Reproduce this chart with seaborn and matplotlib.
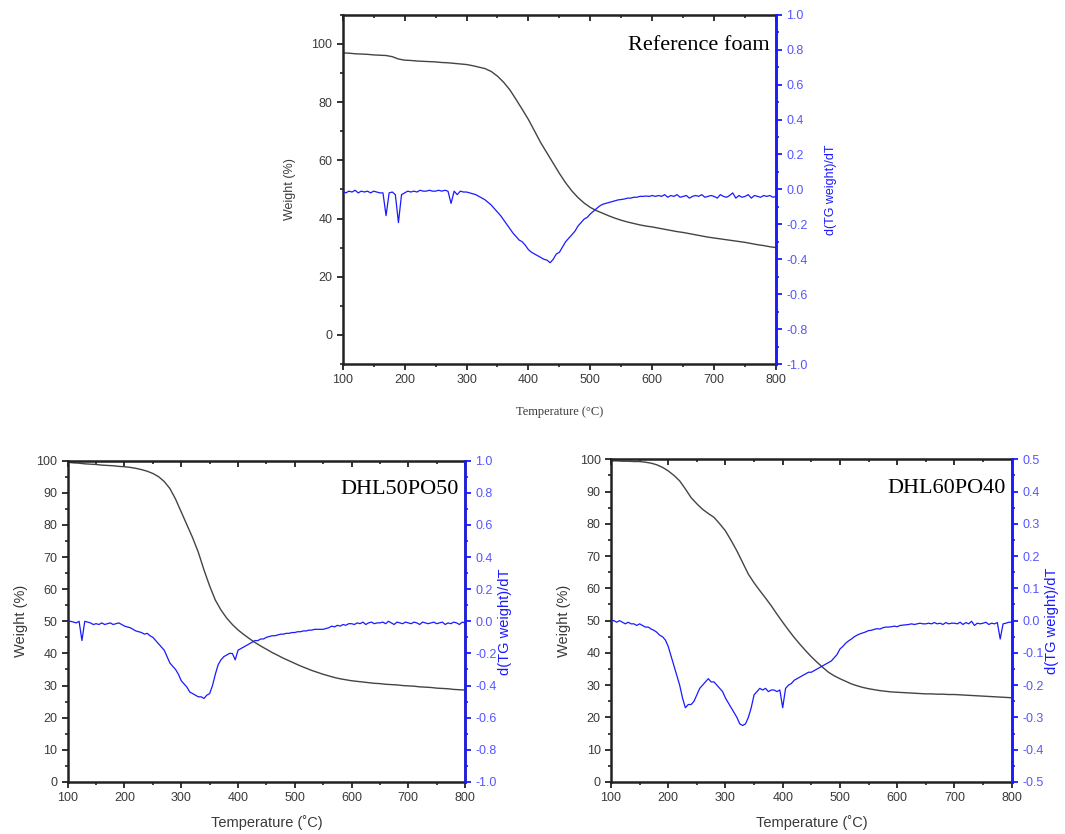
import matplotlib
matplotlib.use("Agg")
import matplotlib.pyplot as plt
from matplotlib.ticker import MultipleLocator
import seaborn as sns
import pandas as pd

# temperature grids (degC)
temp_w = list(range(100, 801, 10))
temp_d = list(range(100, 801, 5))

# Reference foam
ref_weight = [
    96.9, 96.8, 96.6, 96.5, 96.4, 96.2, 96.1, 96.0, 95.6, 94.8,
    94.4, 94.3, 94.1, 94.0, 93.9, 93.8, 93.6, 93.5, 93.3, 93.1,
    92.9, 92.5, 92.0, 91.5, 90.5, 88.9, 86.8, 84.2, 80.9, 77.5,
    74.0, 70.0, 66.0, 62.5, 59.0, 55.5, 52.3, 49.5, 47.2, 45.3,
    43.8, 42.7, 41.8, 40.9, 40.1, 39.4, 38.8, 38.3, 37.8, 37.4,
    37.1, 36.7, 36.3, 35.9, 35.5, 35.2, 34.8, 34.4, 34.0, 33.6,
    33.3, 33.0, 32.7, 32.4, 32.1, 31.8, 31.4, 31.0, 30.7, 30.3,
    30.0,
]
ref_dtg = [
    -0.01, -0.02, -0.01, -0.015, -0.005, -0.02, -0.01, -0.015, -0.01, -0.02,
    -0.01, -0.015, -0.02, -0.02, -0.15, -0.02, -0.015, -0.03, -0.19, -0.03,
    -0.02, -0.01, -0.015, -0.01, -0.015, -0.005, -0.01, -0.01, -0.005, -0.01,
    -0.01, -0.005, -0.01, -0.005, -0.01, -0.08, -0.01, -0.03, -0.01, -0.015,
    -0.015, -0.02, -0.025, -0.03, -0.04, -0.05, -0.06, -0.075, -0.09, -0.11,
    -0.13, -0.15, -0.175, -0.2, -0.225, -0.25, -0.27, -0.29, -0.3, -0.32,
    -0.345, -0.36, -0.37, -0.38, -0.39, -0.4, -0.405, -0.42, -0.4, -0.37,
    -0.36, -0.33, -0.3, -0.28, -0.26, -0.24, -0.21, -0.19, -0.17, -0.16,
    -0.14, -0.125, -0.11, -0.095, -0.085, -0.08, -0.075, -0.07, -0.065, -0.06,
    -0.058, -0.055, -0.05, -0.05, -0.045, -0.045, -0.04, -0.04, -0.038, -0.04,
    -0.035, -0.04, -0.035, -0.04, -0.03, -0.045, -0.035, -0.04, -0.03, -0.045,
    -0.04, -0.035, -0.05, -0.04, -0.035, -0.04, -0.03, -0.045, -0.04, -0.035,
    -0.04, -0.05, -0.03, -0.04, -0.045, -0.035, -0.02, -0.05, -0.035, -0.045,
    -0.04, -0.03, -0.05, -0.035, -0.04, -0.045, -0.035, -0.04, -0.035, -0.045,
    -0.04,
]

# DHL50PO50
dhl50_weight = [
    99.5, 99.3, 99.2, 99.0, 98.9, 98.8, 98.6, 98.5, 98.4, 98.2,
    98.1, 97.9, 97.6, 97.2, 96.7, 96.0, 95.0, 93.5, 91.3, 88.0,
    84.0, 80.0, 76.0, 71.5, 66.0, 61.0, 56.6, 53.5, 51.0, 49.0,
    47.3, 45.9, 44.6, 43.4, 42.3, 41.3, 40.3, 39.4, 38.5, 37.7,
    36.9, 36.1, 35.4, 34.7, 34.1, 33.5, 33.0, 32.5, 32.1, 31.8,
    31.5, 31.3, 31.1, 30.9, 30.7, 30.6, 30.4, 30.3, 30.2, 30.0,
    29.9, 29.8, 29.6, 29.5, 29.4, 29.2, 29.1, 29.0, 28.8, 28.7,
    28.6,
]
dhl50_dtg = [
    0.0, 0.0, -0.005, -0.01, 0.0, -0.12, 0.0, -0.005, -0.01, -0.02,
    -0.015, -0.02, -0.01, -0.02, -0.015, -0.01, -0.02, -0.015, -0.01, -0.02,
    -0.03, -0.035, -0.04, -0.05, -0.06, -0.065, -0.07, -0.08, -0.075, -0.09,
    -0.1, -0.12, -0.14, -0.16, -0.18, -0.22, -0.26, -0.28, -0.3, -0.33,
    -0.37, -0.39, -0.41, -0.44, -0.45, -0.46, -0.47, -0.47, -0.48, -0.46,
    -0.45, -0.4, -0.33, -0.27, -0.24, -0.22, -0.21, -0.2, -0.2, -0.24,
    -0.18, -0.17, -0.16, -0.15, -0.14, -0.13, -0.12, -0.12, -0.11, -0.11,
    -0.1, -0.095, -0.09, -0.09, -0.085, -0.08, -0.08, -0.075, -0.075, -0.07,
    -0.07, -0.065, -0.065, -0.06, -0.06, -0.055, -0.055, -0.05, -0.05, -0.05,
    -0.05, -0.045, -0.04, -0.03, -0.035, -0.025, -0.03, -0.02, -0.025, -0.015,
    -0.015, -0.02, -0.01, -0.015, -0.005, -0.02, -0.01, -0.005, -0.015, -0.01,
    -0.01, -0.005, -0.015, 0.0, -0.01, -0.02, -0.005, -0.01, -0.015, -0.005,
    -0.01, -0.015, -0.005, -0.01, -0.02, -0.005, -0.01, -0.015, -0.01, -0.005,
    -0.015, -0.01, -0.005, -0.02, -0.01, -0.015, -0.005, -0.01, -0.02, -0.005,
    -0.01,
]

# DHL60PO40
dhl60_weight = [
    99.5, 99.5, 99.4, 99.4, 99.3, 99.3, 99.1, 98.8, 98.3, 97.5,
    96.4, 95.0, 93.3, 90.8, 88.1, 86.2, 84.5, 83.2, 82.0, 80.0,
    77.8, 74.8, 71.6, 68.0, 64.4, 61.7, 59.3, 57.0, 54.6, 52.0,
    49.5, 47.1, 44.8, 42.7, 40.7, 38.8, 37.1, 35.5, 34.0, 32.9,
    32.0, 31.2, 30.4, 29.8, 29.3, 28.9, 28.6, 28.3, 28.1, 27.9,
    27.8, 27.7, 27.6, 27.5, 27.4, 27.3, 27.3, 27.2, 27.2, 27.1,
    27.1, 27.0, 26.9, 26.8, 26.7, 26.6, 26.5, 26.4, 26.3, 26.2,
    26.1,
]
dhl60_dtg = [
    0.0, 0.0, -0.005, 0.0, -0.005, -0.01, -0.005, -0.01, -0.01, -0.015,
    -0.01, -0.015, -0.02, -0.02, -0.026, -0.03, -0.036, -0.045, -0.05, -0.06,
    -0.08, -0.11, -0.14, -0.17, -0.2, -0.24, -0.27, -0.26, -0.26, -0.25,
    -0.23, -0.21, -0.2, -0.19, -0.18, -0.19, -0.19, -0.2, -0.21, -0.22,
    -0.24, -0.255, -0.27, -0.285, -0.3, -0.32, -0.325, -0.32, -0.3, -0.27,
    -0.23, -0.22, -0.21, -0.215, -0.21, -0.22, -0.215, -0.215, -0.22, -0.215,
    -0.27, -0.21, -0.2, -0.195, -0.185, -0.18, -0.175, -0.17, -0.165, -0.16,
    -0.16, -0.155, -0.15, -0.145, -0.14, -0.135, -0.13, -0.125, -0.115, -0.105,
    -0.088, -0.08, -0.07, -0.063, -0.057, -0.05, -0.045, -0.041, -0.038, -0.035,
    -0.031, -0.03, -0.027, -0.025, -0.026, -0.022, -0.02, -0.02, -0.019, -0.017,
    -0.019, -0.015, -0.014, -0.013, -0.012, -0.01, -0.012, -0.01, -0.008, -0.01,
    -0.01, -0.008, -0.01, -0.006, -0.01, -0.008, -0.012, -0.006, -0.01, -0.008,
    -0.008, -0.01, -0.005, -0.012, -0.006, -0.01, -0.002, -0.015, -0.008, -0.01,
    -0.008, -0.005, -0.012, -0.008, -0.01, -0.006, -0.057, -0.01, -0.008, -0.005,
    -0.005,
]

sns.set_style("ticks")
plt.rcParams["font.family"] = ["Liberation Sans", "DejaVu Sans"]

BLUE = "#1a1aff"
TXT = "#3a3a3a"


def tga_panel(fig, rect, weight, dtg, name, wlim, wstep, dlim, dstep, top_style):
    ax = fig.add_axes(rect)
    df_w = pd.DataFrame({"T": temp_w, "w": weight})
    df_d = pd.DataFrame({"T": temp_d, "d": dtg})
    sns.lineplot(data=df_w, x="T", y="w", ax=ax, color="#444444", linewidth=1.0)
    ax.set_xlim(100, 800)
    ax.set_ylim(*wlim)
    ax.xaxis.set_major_locator(MultipleLocator(100))
    ax.xaxis.set_minor_locator(MultipleLocator(50))
    ax.yaxis.set_major_locator(MultipleLocator(wstep))
    ax.yaxis.set_minor_locator(MultipleLocator(wstep / 2))
    ax.tick_params(which="major", direction="out", length=4, width=1.3,
                   labelsize=9, labelcolor=TXT, color="#222222")
    ax.tick_params(which="minor", direction="out", length=2.5, width=1.2, color="#222222")
    for s in ax.spines.values():
        s.set_linewidth(1.8)
        s.set_color("#222222")

    top = ax.secondary_xaxis("top")
    top.xaxis.set_major_locator(MultipleLocator(100))
    top.xaxis.set_minor_locator(MultipleLocator(50))
    top.tick_params(which="both", direction="in", labeltop=False, color="#222222")
    top.tick_params(which="major", length=4, width=1.3)
    top.tick_params(which="minor", length=2.5, width=1.2)

    ax2 = ax.twinx()
    sns.lineplot(data=df_d, x="T", y="d", ax=ax2, color=BLUE, linewidth=0.9)
    ax2.set_ylim(*dlim)
    ax2.yaxis.set_major_locator(MultipleLocator(dstep))
    ax2.yaxis.set_minor_locator(MultipleLocator(dstep / 2))
    ax2.yaxis.set_major_formatter(lambda v, p: f"{v:.1f}")
    ax2.tick_params(axis="y", which="major", direction="out", length=4, width=1.3,
                    labelsize=9, labelcolor="#5555ff", color=BLUE)
    ax2.tick_params(axis="y", which="minor", direction="out", length=2.5, width=1.2, color=BLUE)
    ax2.spines["right"].set_color(BLUE)
    ax2.spines["right"].set_linewidth(1.8)
    ax2.spines["left"].set_visible(False)
    ax2.spines["top"].set_visible(False)
    ax2.spines["bottom"].set_visible(False)

    if top_style:
        ax.set_ylabel("Weight (%)", fontsize=9, color=TXT, labelpad=11)
        ax2.set_ylabel("d(TG weight)/dT", fontsize=9, color=BLUE, rotation=90, labelpad=12)
        ax.set_xlabel("Temperature (\u00b0C)", fontsize=9, color=TXT,
                      family="Liberation Serif", labelpad=14)
    else:
        ax.set_ylabel("Weight (%)", fontsize=10.5, color=TXT, labelpad=6)
        ax2.set_ylabel("d(TG weight)/dT", fontsize=10.5, color=BLUE, rotation=90, labelpad=1)
        ax.set_xlabel("Temperature (\u02daC)", fontsize=10.5, color=TXT, labelpad=8)
    ax.text(0.985, 0.94, name, transform=ax.transAxes, ha="right", va="top",
            fontsize=16, family="Liberation Serif", color="black")
    return ax, ax2


fig = plt.figure(figsize=(10.65, 8.34), dpi=100)

tga_panel(fig, [0.3218, 0.5635, 0.4069, 0.4188], ref_weight, ref_dtg,
          "Reference foam", (-10, 110), 20, (-1.0, 1.0), 0.2, True)
tga_panel(fig, [0.0636, 0.0624, 0.3731, 0.3853], dhl50_weight, dhl50_dtg,
          "DHL50PO50", (0, 100), 10, (-1.0, 1.0), 0.2, False)
tga_panel(fig, [0.5737, 0.0624, 0.3762, 0.3869], dhl60_weight, dhl60_dtg,
          "DHL60PO40", (0, 100), 10, (-0.5, 0.5), 0.1, False)

fig.savefig("out.png", dpi=100)
